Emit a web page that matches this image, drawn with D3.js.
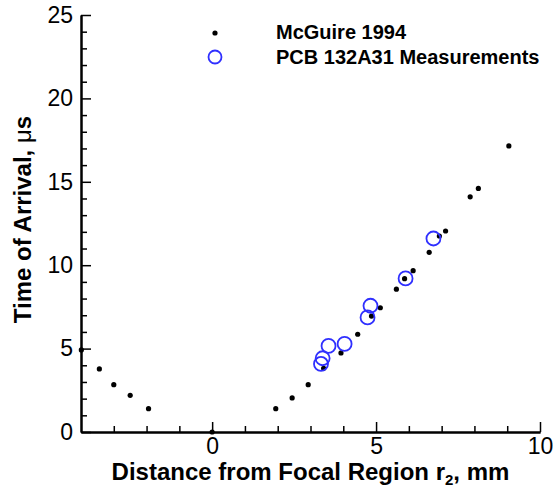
<!DOCTYPE html>
<html>
<head>
<meta charset="utf-8">
<script src="https://cdn.jsdelivr.net/npm/d3@7"></script>
<style>
    body { margin: 0; background: #fff; }
    svg { font-family: Arial, "Liberation Sans", sans-serif; }
    .axis path.domain { stroke: #000; stroke-width: 2px; }
    .axis line { stroke: #000; stroke-width: 1.5px; }
    .axis text { font-size: 23px; fill: #000; }
    .axis-label { font-size: 24px; font-weight: bold; fill: #000; }
    .legend-text { font-size: 20px; font-weight: bold; fill: #000; }
</style>
</head>
<body>
<div id="chart"></div>
<script>
// McGuire 1994 data (distance r2 in mm, time of arrival in microseconds)
var mcguireX = [-3.99, -3.44, -3.0, -2.5, -1.94, 0, 1.94, 2.44, 2.93, 3.40, 3.93, 4.44,
                4.86, 5.13, 5.62, 5.87, 6.13, 6.62, 6.93, 7.12, 7.87, 8.12, 9.05];
var mcguireY = [4.92, 3.78, 2.84, 2.2, 1.4, 0, 1.4, 2.04, 2.84, 3.82, 4.74, 5.86,
                6.95, 7.45, 8.56, 9.19, 9.67, 10.77, 11.75, 12.05, 14.1, 14.6, 17.15];

// PCB 132A31 measurements
var pcbX = [3.32, 3.37, 3.55, 4.04, 4.74, 4.83, 5.9, 6.75];
var pcbY = [4.08, 4.42, 5.16, 5.28, 6.87, 7.57, 9.21, 11.6];

var xMajorTicks = [0, 5, 10];
var xMinorTicks = [-3, -2, -1, 1, 2, 3, 4, 6, 7, 8, 9];
var yMajorTicks = [0, 5, 10, 15, 20, 25];
var yMinorTicks = [1, 2, 3, 4, 6, 7, 8, 9, 11, 12, 13, 14, 16, 17, 18, 19, 21, 22, 23, 24];

var legendNames = ["McGuire 1994", "PCB 132A31 Measurements"];

var margin = {top: 15, right: 13, bottom: 57, left: 81};
var width = 553 - margin.left - margin.right;
var height = 489 - margin.top - margin.bottom;

var svg = d3.select("#chart").append("svg")
    .attr("width", 553)
    .attr("height", 489)
    .append("g")
    .attr("transform", "translate(" + margin.left + "," + margin.top + ")");

var x = d3.scaleLinear().domain([-4, 10]).range([0, width]);
var y = d3.scaleLinear().domain([0, 25]).range([height, 0]);

// minor ticks first, pointing into the plot
svg.append("g")
    .attr("class", "axis")
    .attr("transform", "translate(0," + height + ")")
    .call(d3.axisBottom(x).tickValues(xMinorTicks).tickFormat("")
        .tickSizeInner(-6).tickSizeOuter(0));

svg.append("g")
    .attr("class", "axis")
    .call(d3.axisLeft(y).tickValues(yMinorTicks).tickFormat("")
        .tickSizeInner(-6).tickSizeOuter(0));

var xAxis = svg.append("g")
    .attr("class", "axis x-axis")
    .attr("transform", "translate(0," + height + ")")
    .call(d3.axisBottom(x).tickValues(xMajorTicks).tickFormat(d3.format("d"))
        .tickSizeInner(-10).tickSizeOuter(0).tickPadding(6));
xAxis.selectAll("text").attr("dy", "0.71em").attr("y", 6);

var yAxis = svg.append("g")
    .attr("class", "axis y-axis")
    .call(d3.axisLeft(y).tickValues(yMajorTicks).tickFormat(d3.format("d"))
        .tickSizeInner(-10).tickSizeOuter(0));
yAxis.selectAll("text").attr("x", -8);

// axis titles
var xTitle = svg.append("text")
    .attr("class", "axis-label")
    .attr("text-anchor", "middle")
    .attr("x", width / 2)
    .attr("y", height + 48);
xTitle.append("tspan").text("Distance from Focal Region r");
xTitle.append("tspan").attr("font-size", "15px").attr("dy", 5).text("2");
xTitle.append("tspan").attr("dy", -5).text(", mm");

var yTitle = svg.append("text")
    .attr("class", "axis-label")
    .attr("text-anchor", "middle")
    .attr("transform", "translate(-50," + (height / 2 - 4) + ") rotate(-90)");
yTitle.append("tspan").text("Time of Arrival, ");
yTitle.append("tspan").attr("font-weight", "normal").text("\u03bc");
yTitle.append("tspan").text("s");

// data points
svg.selectAll(".mcguire")
    .data(mcguireX)
    .enter()
    .append("circle")
    .attr("class", "mcguire")
    .attr("cx", function(d) { return x(d); })
    .attr("cy", function(d, i) { return y(mcguireY[i]); })
    .attr("r", 2.6)
    .attr("fill", "#000");

svg.selectAll(".pcb")
    .data(pcbX)
    .enter()
    .append("circle")
    .attr("class", "pcb")
    .attr("cx", function(d) { return x(d); })
    .attr("cy", function(d, i) { return y(pcbY[i]); })
    .attr("r", 7)
    .attr("fill", "none")
    .attr("stroke", "#2f2fff")
    .attr("stroke-width", 1.8);

// legend
var legend = svg.append("g").attr("transform", "translate(134, 18)");
legend.append("circle")
    .attr("cx", 0).attr("cy", 0).attr("r", 2.6).attr("fill", "#000");
legend.append("circle")
    .attr("cx", 0).attr("cy", 24).attr("r", 6.5)
    .attr("fill", "none").attr("stroke", "#2f2fff").attr("stroke-width", 1.8);
legend.selectAll(".legend-text")
    .data(legendNames)
    .enter()
    .append("text")
    .attr("class", "legend-text")
    .attr("x", 61)
    .attr("y", function(d, i) { return 6 + i * 25; })
    .text(function(d) { return d; });
</script>
</body>
</html>
